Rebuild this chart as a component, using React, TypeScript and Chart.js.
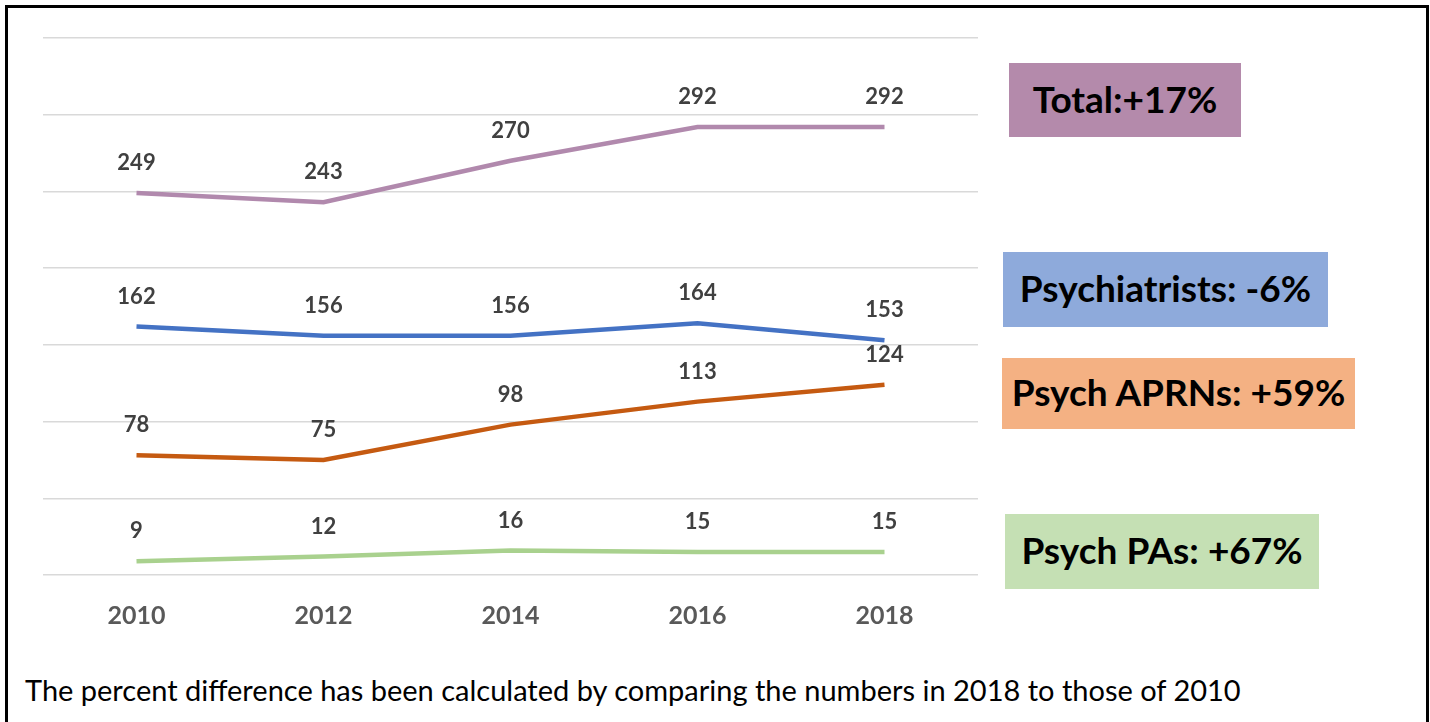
import React, { useEffect, useRef } from "react";
import { Chart, registerables } from "chart.js";

Chart.register(...registerables);

const years = ["2010", "2012", "2014", "2016", "2018"];
const totalValues = [249, 243, 270, 292, 292];
const psychiatristValues = [162, 156, 156, 164, 153];
const aprnValues = [78, 75, 98, 113, 124];
const paValues = [9, 12, 16, 15, 15];

const seriesNames = ["Total", "Psychiatrists", "Psych APRNs", "Psych PAs"];
const seriesColors = ["#b189ad", "#4472c4", "#c55a11", "#a9d18e"];

const boxLabels = ["Total:+17%", "Psychiatrists: -6%", "Psych APRNs: +59%", "Psych PAs: +67%"];
const boxColors = ["#b48aab", "#8eaadb", "#f4b183", "#c5e0b4"];
const boxRects = [
  { left: 1009, top: 63, width: 232, height: 74 },
  { left: 1003, top: 252, width: 325, height: 75 },
  { left: 1002, top: 358, width: 353, height: 71 },
  { left: 1005, top: 514, width: 314, height: 75 },
];

const footnote =
  "The percent difference has been calculated by comparing the numbers in 2018 to those of 2010";

const FONT = "Lato, 'Noto Sans', sans-serif";

const valueLabelPlugin = {
  id: "valueLabels",
  afterDatasetsDraw(chart: any) {
    const ctx = chart.ctx;
    ctx.save();
    ctx.font = `bold 22px ${FONT}`;
    ctx.fillStyle = "#404040";
    ctx.textAlign = "center";
    ctx.textBaseline = "middle";
    chart.data.datasets.forEach((ds: any, i: number) => {
      const meta = chart.getDatasetMeta(i);
      meta.data.forEach((pt: any, j: number) => {
        ctx.fillText(String(ds.data[j]), pt.x, pt.y - 30);
      });
    });
    ctx.restore();
  },
};

export default function App() {
  const canvasRef = useRef<HTMLCanvasElement>(null);

  useEffect(() => {
    const canvas = canvasRef.current;
    if (!canvas) return;
    const allValues = [totalValues, psychiatristValues, aprnValues, paValues];
    const chart = new Chart(canvas, {
      type: "line",
      data: {
        labels: years,
        datasets: allValues.map((vals, i) => ({
          label: seriesNames[i],
          data: vals,
          borderColor: seriesColors[i],
          backgroundColor: seriesColors[i],
          borderWidth: 4.5,
          pointRadius: 0,
          tension: 0,
          fill: false,
        })),
      },
      options: {
        responsive: false,
        animation: false,
        layout: { padding: { left: 43, right: 22, top: 38, bottom: 10 } },
        plugins: {
          legend: { display: false },
          tooltip: { enabled: false },
          title: { display: false },
        },
        scales: {
          x: {
            offset: true,
            grid: { display: false, drawTicks: false },
            border: { display: false },
            ticks: {
              padding: 26,
              color: "#595959",
              font: { family: FONT, size: 25, weight: "bold" },
            },
            afterFit: (scale: any) => {
              scale.height = 65;
            },
          },
          y: {
            min: 0,
            max: 350,
            ticks: { display: false, stepSize: 50 },
            grid: { color: "#d9d9d9", lineWidth: 1.5, drawTicks: false },
            border: { display: false },
            afterFit: (scale: any) => {
              scale.width = 0;
            },
          },
        },
      },
      plugins: [valueLabelPlugin],
    } as any);
    return () => chart.destroy();
  }, []);

  return (
    <div
      style={{
        position: "fixed",
        left: 0,
        top: 0,
        width: 1430,
        height: 722,
        overflow: "hidden",
        background: "#ffffff",
        fontFamily: FONT,
      }}
    >
      <div
        style={{
          position: "absolute",
          left: 5,
          top: 5,
          width: 1424,
          height: 740,
          border: "3px solid #000",
          boxSizing: "border-box",
        }}
      />
      <canvas
        ref={canvasRef}
        width={1000}
        height={650}
        style={{ position: "absolute", left: 0, top: 0, width: 1000, height: 650 }}
      />
      {boxLabels.map((t, i) => (
        <div
          key={t}
          style={{
            position: "absolute",
            left: boxRects[i].left,
            top: boxRects[i].top,
            width: boxRects[i].width,
            height: boxRects[i].height,
            background: boxColors[i],
            display: "flex",
            alignItems: "center",
            justifyContent: "center",
            fontWeight: "bold",
            fontSize: 37,
            color: "#000",
            paddingBottom: 4,
            boxSizing: "border-box",
            whiteSpace: "nowrap",
          }}
        >
          {t}
        </div>
      ))}
      <div
        style={{
          position: "absolute",
          left: 25,
          top: 673,
          fontSize: 29,
          lineHeight: "34px",
          color: "#000",
          whiteSpace: "nowrap",
        }}
      >
        {footnote}
      </div>
    </div>
  );
}
